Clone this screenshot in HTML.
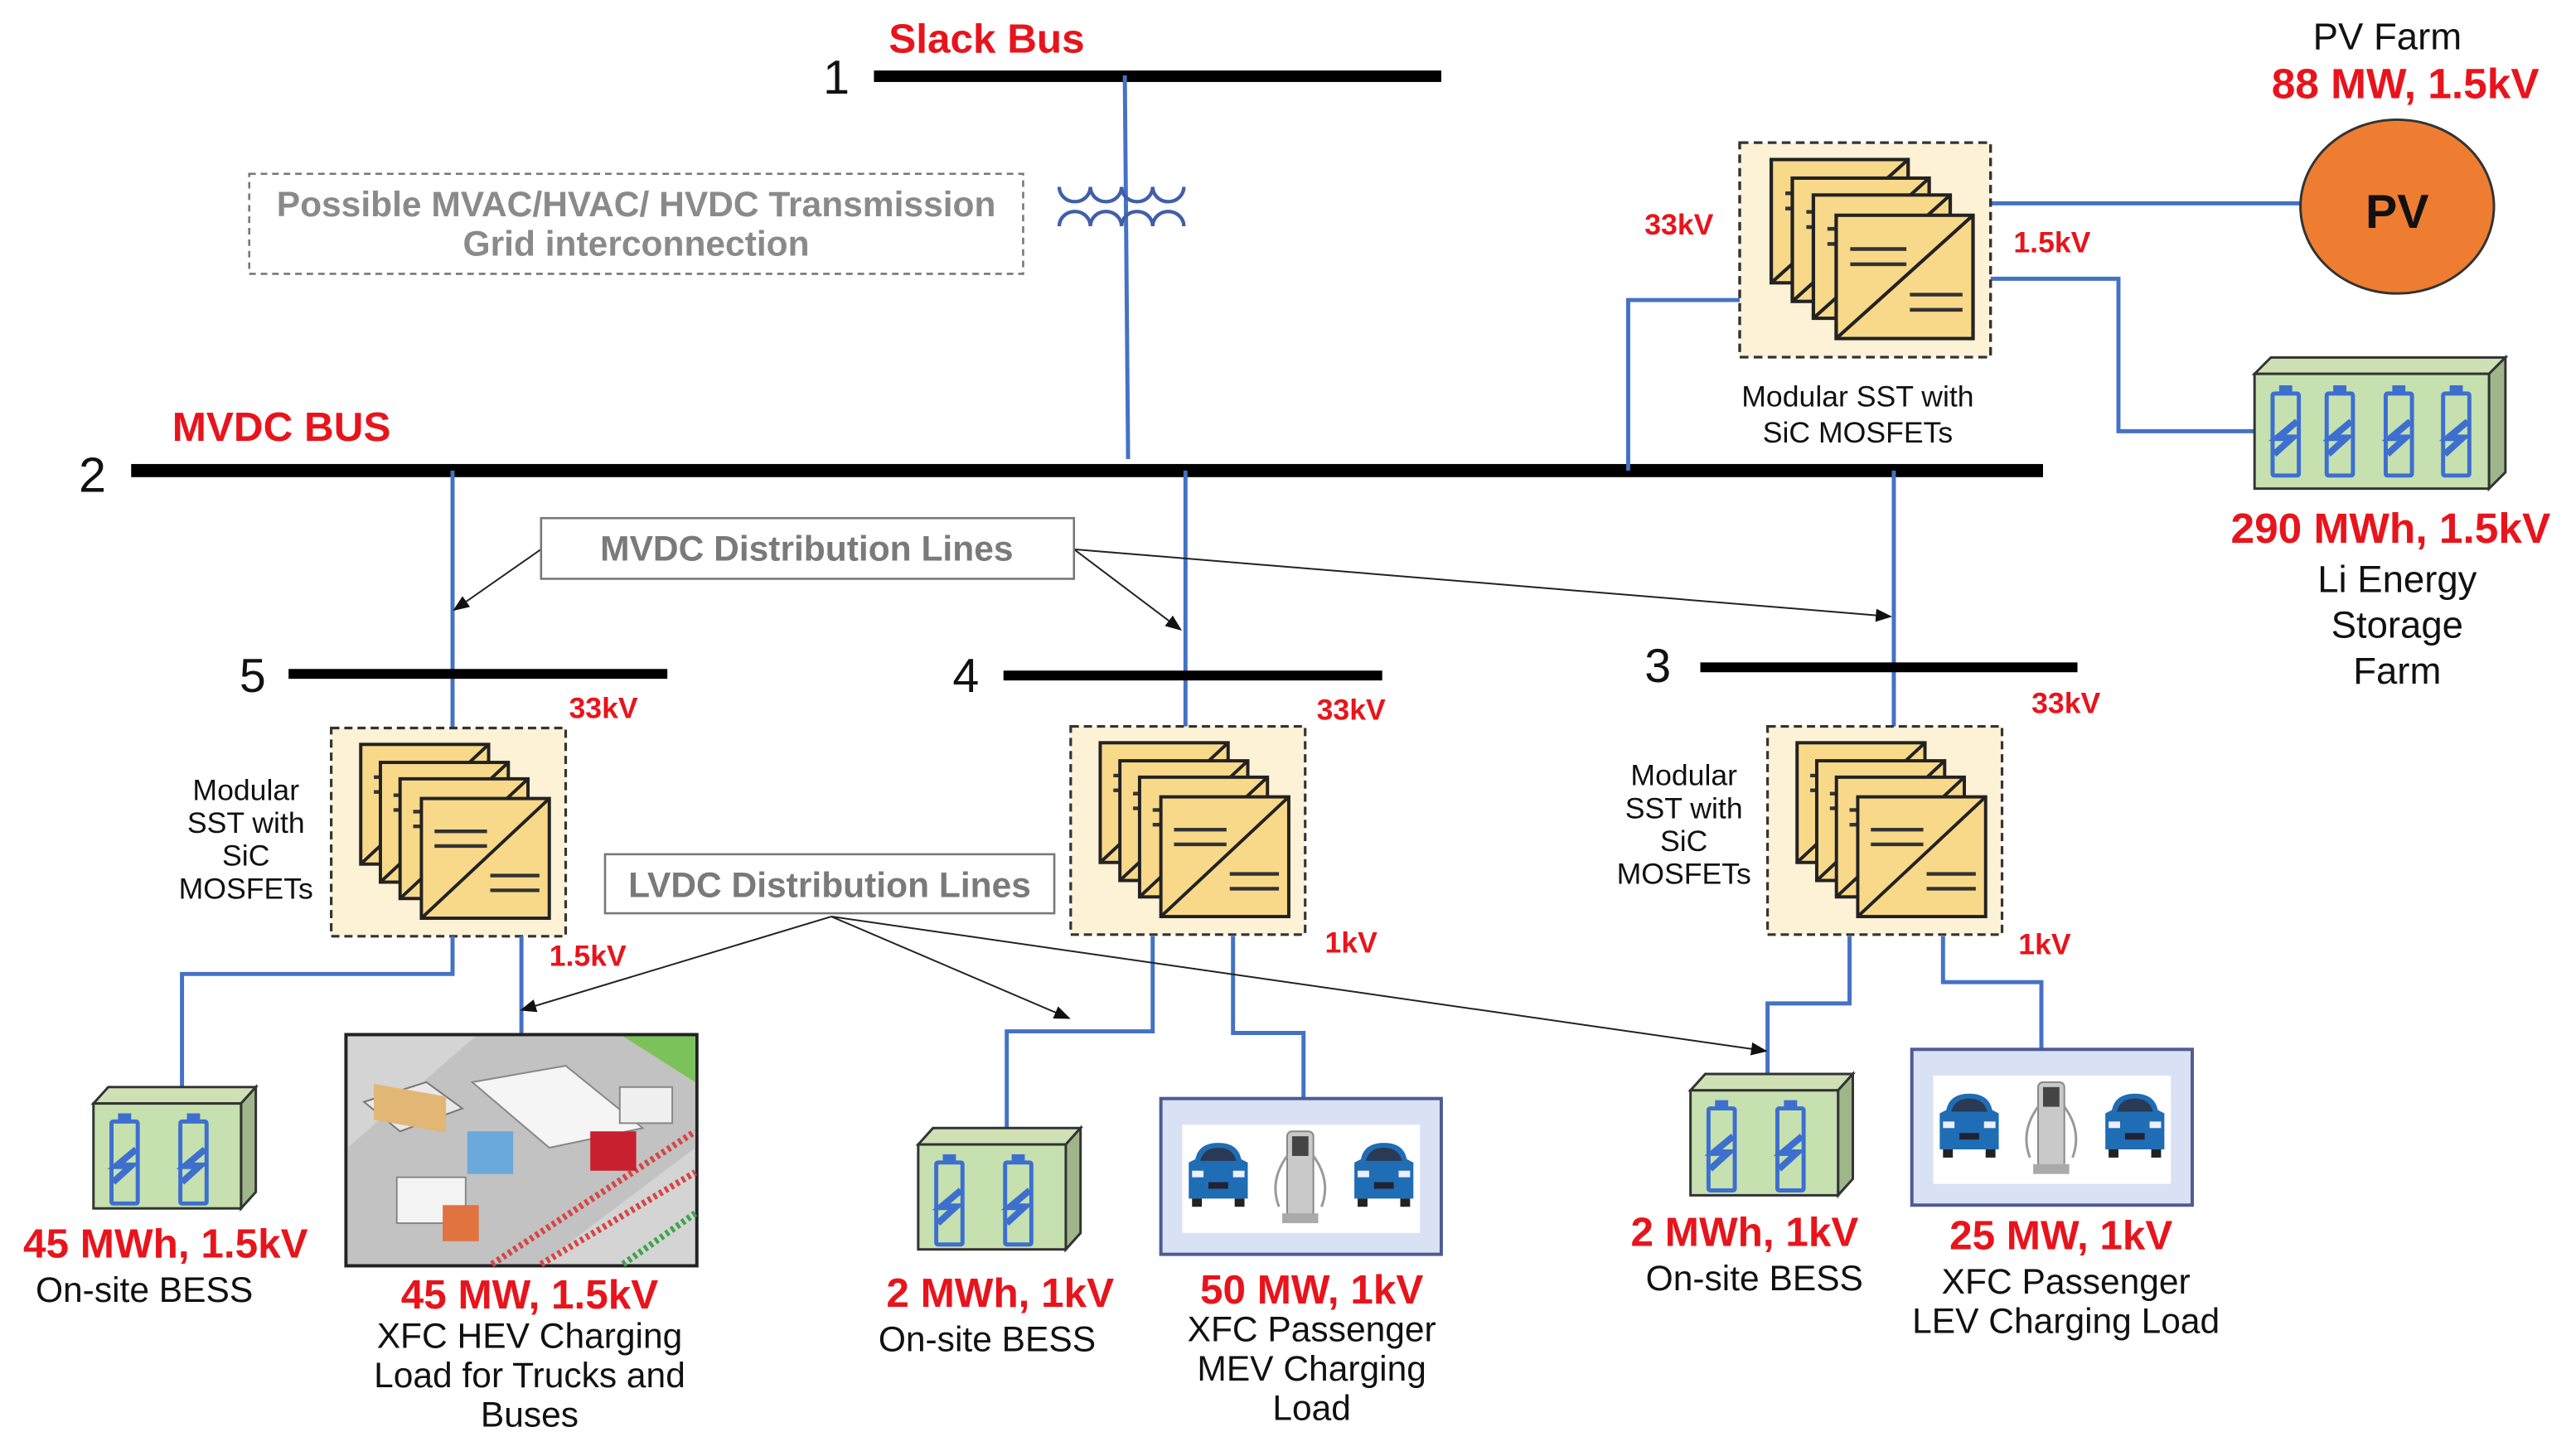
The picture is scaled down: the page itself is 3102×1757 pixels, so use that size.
<!DOCTYPE html>
<html><head><meta charset="utf-8"><style>
html,body{margin:0;padding:0;background:#fff;}
svg{display:block;}
text{font-family:"Liberation Sans",Arial,sans-serif;}
.r{fill:#e8141c;font-weight:bold;}
.b{fill:#111;}
</style></head><body>
<svg width="3102" height="1757" viewBox="0 0 1568 888" preserveAspectRatio="none" xmlns="http://www.w3.org/2000/svg">
<defs>
<marker id="ar" markerWidth="10" markerHeight="8" refX="9" refY="4" orient="auto" markerUnits="userSpaceOnUse">
<path d="M0,0 L10,4 L0,8 z" fill="#111"/></marker>
<g id="card">
<rect x="0" y="0" width="78" height="73" fill="#f8d98a" stroke="#222" stroke-width="2"/>
<line x1="0" y1="73" x2="78" y2="0" stroke="#222" stroke-width="2"/>
<line x1="8" y1="20" x2="40" y2="20" stroke="#333" stroke-width="2.2"/>
<line x1="8" y1="29" x2="40" y2="29" stroke="#333" stroke-width="2.2"/>
<line x1="42" y1="47" x2="72" y2="47" stroke="#333" stroke-width="2.2"/>
<line x1="42" y1="56" x2="72" y2="56" stroke="#333" stroke-width="2.2"/>
</g>
<g id="sst">
<rect x="0" y="0" width="143" height="127" fill="#fdf1d6" stroke="#333" stroke-width="1.6" stroke-dasharray="5,3"/>
<use href="#card" x="18" y="10"/>
<use href="#card" x="30" y="21"/>
<use href="#card" x="42" y="31"/>
<use href="#card" x="55" y="43"/>
</g>
<g id="cell">
<rect x="4" y="0" width="8" height="5" fill="#3d6fcf"/>
<rect x="0" y="5" width="16" height="50" rx="1" fill="none" stroke="#3d6fcf" stroke-width="2.5"/>
<path d="M15,22 L3,32 L12,32 L1,42" fill="none" stroke="#3d6fcf" stroke-width="4"/>
</g>
<g id="car">
<path d="M6,10 Q8,0 20,0 Q32,0 34,10 L38,12 L38,34 L2,34 L2,12 Z" fill="#1f6db4"/>
<path d="M9,11 Q11,3 20,3 Q29,3 31,11 Z" fill="#2a3a55"/>
<rect x="4" y="17" width="7" height="4" fill="#eef"/>
<rect x="29" y="17" width="7" height="4" fill="#eef"/>
<rect x="14" y="24" width="12" height="4" fill="#223"/>
<rect x="4" y="34" width="6" height="5" fill="#222"/>
<rect x="30" y="34" width="6" height="5" fill="#222"/>
</g>
<g id="evbox">
<rect x="0" y="0" width="171" height="95" fill="#d9e1f4" stroke="#4d5b94" stroke-width="2"/>
<rect x="13" y="16" width="145" height="66" fill="#fff"/>
<use href="#car" x="15" y="27"/>
<use href="#car" x="116" y="27"/>
<rect x="77" y="20" width="16" height="52" rx="3" fill="#c9c9c9" stroke="#888"/>
<rect x="80" y="23" width="10" height="12" fill="#444"/>
<rect x="74" y="70" width="22" height="6" fill="#aaa"/>
<path d="M77,35 Q66,50 72,66 M93,35 Q104,50 98,66" fill="none" stroke="#999" stroke-width="1.5"/>
</g>
</defs>

<!-- Slack bus -->
<rect x="533" y="43" width="346" height="7" fill="#000"/>
<text x="502" y="57" font-size="29" class="b">1</text>
<text x="542" y="32" font-size="25" class="r">Slack Bus</text>
<line x1="686" y1="46" x2="688" y2="280" stroke="#4472c4" stroke-width="2.5"/>
<path d="M646,114 a9.5,9 0 0 0 19,0 a9.5,9 0 0 0 19,0 a9.5,9 0 0 0 19,0 a9.5,9 0 0 0 19,0" fill="none" stroke="#3f5fa8" stroke-width="2.2"/>
<path d="M646,138 a9.5,9 0 0 1 19,0 a9.5,9 0 0 1 19,0 a9.5,9 0 0 1 19,0 a9.5,9 0 0 1 19,0" fill="none" stroke="#3f5fa8" stroke-width="2.2"/>

<rect x="152" y="106" width="472" height="61" fill="#fff" stroke="#777" stroke-width="1.3" stroke-dasharray="4,3"/>
<text x="388" y="132" font-size="21.5" font-weight="bold" fill="#8a8a8a" text-anchor="middle">Possible MVAC/HVAC/ HVDC Transmission</text>
<text x="388" y="156" font-size="21.5" font-weight="bold" fill="#8a8a8a" text-anchor="middle">Grid interconnection</text>

<!-- MVDC bus -->
<rect x="80" y="283" width="1166" height="8" fill="#000"/>
<text x="48" y="300" font-size="30" class="b">2</text>
<text x="105" y="269" font-size="25" class="r">MVDC BUS</text>

<!-- Top SST -->
<line x1="1214" y1="124" x2="1404" y2="124" stroke="#4472c4" stroke-width="2.5"/>
<polyline points="1214,170 1292,170 1292,263 1376,263" fill="none" stroke="#4472c4" stroke-width="2.5"/>
<polyline points="1061,183 993,183 993,287" fill="none" stroke="#4472c4" stroke-width="2.5"/>
<use href="#sst" x="1061" y="87" transform="translate(1061,87) scale(1.07,1.03) translate(-1061,-87)"/>
<text x="1003" y="143" font-size="18" class="r">33kV</text>
<text x="1228" y="154" font-size="18" class="r">1.5kV</text>
<text x="1133" y="248" font-size="18" class="b" text-anchor="middle">Modular SST with</text>
<text x="1133" y="270" font-size="18" class="b" text-anchor="middle">SiC MOSFETs</text>

<!-- PV -->
<ellipse cx="1462" cy="126" rx="59" ry="53" fill="#ee7d31" stroke="#333" stroke-width="1.5"/>
<text x="1462" y="139" font-size="29" font-weight="bold" fill="#111" text-anchor="middle">PV</text>
<text x="1456" y="30" font-size="23" class="b" text-anchor="middle">PV Farm</text>
<text x="1467" y="60" font-size="26" class="r" text-anchor="middle">88 MW, 1.5kV</text>

<!-- Big battery -->
<polygon points="1375,228 1385,218 1528,218 1518,228" fill="#cfe0b4" stroke="#333" stroke-width="1.5"/>
<polygon points="1518,228 1528,218 1528,288 1518,298" fill="#9fb68a" stroke="#333" stroke-width="1.5"/>
<rect x="1375" y="228" width="143" height="70" fill="#c6e0b0" stroke="#333" stroke-width="1.5"/>
<use href="#cell" x="1386" y="235"/>
<use href="#cell" x="1419" y="235"/>
<use href="#cell" x="1455" y="235"/>
<use href="#cell" x="1490" y="235"/>
<text x="1458" y="331" font-size="26" class="r" text-anchor="middle">290 MWh, 1.5kV</text>
<text x="1462" y="361" font-size="23" class="b" text-anchor="middle">Li Energy</text>
<text x="1462" y="389" font-size="23" class="b" text-anchor="middle">Storage</text>
<text x="1462" y="417" font-size="23" class="b" text-anchor="middle">Farm</text>

<!-- Vertical feeders -->
<line x1="276" y1="287" x2="276" y2="455" stroke="#4472c4" stroke-width="2.5"/>
<line x1="723" y1="287" x2="723" y2="455" stroke="#4472c4" stroke-width="2.5"/>
<line x1="1155" y1="287" x2="1155" y2="444" stroke="#4472c4" stroke-width="2.5"/>

<!-- MVDC dist lines label -->
<line x1="330" y1="335" x2="277" y2="372" stroke="#222" stroke-width="1" marker-end="url(#ar)"/>
<line x1="655" y1="335" x2="720" y2="384" stroke="#222" stroke-width="1" marker-end="url(#ar)"/>
<line x1="655" y1="335" x2="1153" y2="376" stroke="#222" stroke-width="1" marker-end="url(#ar)"/>
<rect x="330" y="316" width="325" height="37" fill="#fff" stroke="#777" stroke-width="1.3"/>
<text x="492" y="342" font-size="21.5" font-weight="bold" fill="#7a7a7a" text-anchor="middle">MVDC Distribution Lines</text>

<!-- buses 3,4,5 -->
<rect x="176" y="408" width="231" height="6" fill="#000"/>
<text x="146" y="422" font-size="29" class="b">5</text>
<rect x="612" y="409" width="231" height="6" fill="#000"/>
<text x="581" y="422" font-size="29" class="b">4</text>
<rect x="1037" y="404" width="230" height="6" fill="#000"/>
<text x="1003" y="416" font-size="29" class="b">3</text>
<text x="347" y="438" font-size="18" class="r">33kV</text>
<text x="803" y="439" font-size="18" class="r">33kV</text>
<text x="1239" y="435" font-size="18" class="r">33kV</text>

<!-- SSTs -->
<use href="#sst" x="202" y="444"/>
<use href="#sst" x="653" y="443"/>
<use href="#sst" x="1078" y="443"/>
<g font-size="18" class="b" text-anchor="middle">
<text x="150" y="488">Modular</text><text x="150" y="508">SST with</text><text x="150" y="528">SiC</text><text x="150" y="548">MOSFETs</text>
<text x="1027" y="479">Modular</text><text x="1027" y="499">SST with</text><text x="1027" y="519">SiC</text><text x="1027" y="539">MOSFETs</text>
</g>
<text x="335" y="589" font-size="18" class="r">1.5kV</text>
<text x="808" y="581" font-size="18" class="r">1kV</text>
<text x="1231" y="582" font-size="18" class="r">1kV</text>

<!-- LV feeders -->
<g fill="none" stroke="#4472c4" stroke-width="2.5">
<polyline points="276,571 276,594 111,594 111,665"/>
<line x1="318" y1="571" x2="318" y2="632"/>
<polyline points="703,571 703,629 614,629 614,690"/>
<polyline points="752,571 752,630 795,630 795,670"/>
<polyline points="1128,571 1128,612 1078,612 1078,657"/>
<polyline points="1185,571 1185,599 1245,599 1245,640"/>
</g>

<!-- LVDC label -->
<line x1="507" y1="559" x2="318" y2="616" stroke="#222" stroke-width="1" marker-end="url(#ar)"/>
<line x1="507" y1="559" x2="652" y2="621" stroke="#222" stroke-width="1" marker-end="url(#ar)"/>
<line x1="507" y1="559" x2="1077" y2="641" stroke="#222" stroke-width="1" marker-end="url(#ar)"/>
<rect x="369" y="521" width="274" height="36" fill="#fff" stroke="#777" stroke-width="1.3"/>
<text x="506" y="547" font-size="21.5" font-weight="bold" fill="#7a7a7a" text-anchor="middle">LVDC Distribution Lines</text>

<!-- small batteries -->
<g id="sb5">
<polygon points="57,673 66,663 156,663 147,673" fill="#cfe0b4" stroke="#333" stroke-width="1.5"/>
<polygon points="147,673 156,663 156,727 147,737" fill="#9fb68a" stroke="#333" stroke-width="1.5"/>
<rect x="57" y="673" width="90" height="64" fill="#c6e0b0" stroke="#333" stroke-width="1.5"/>
<use href="#cell" x="68" y="679"/>
<use href="#cell" x="110" y="679"/>
</g>
<use href="#sb5" transform="translate(503,25)"/>
<use href="#sb5" transform="translate(974,-8)"/>

<!-- truck image -->
<rect x="211" y="631" width="214" height="141" fill="#d4d4d4" stroke="#222" stroke-width="2"/>
<polygon points="212,700 290,632 424,632 424,700 330,771 212,771" fill="#c2c2c2"/>
<polygon points="380,632 424,632 424,660" fill="#7cc25a"/>
<path d="M300,771 L424,690 M330,771 L424,715" stroke="#d64545" stroke-width="4" stroke-dasharray="2,2"/>
<path d="M380,771 L424,740" stroke="#3fa34d" stroke-width="4" stroke-dasharray="2,2"/>
<polygon points="222,672 260,660 282,676 244,690" fill="#e9e9e9" stroke="#777"/>
<rect x="228" y="661" width="44" height="22" fill="#e2b776" transform="skewY(10)" transform-origin="228 661"/>
<polygon points="288,660 345,650 392,688 335,700" fill="#f5f5f5" stroke="#888"/>
<rect x="360" y="690" width="28" height="24" fill="#c8202e"/>
<rect x="378" y="663" width="32" height="22" fill="#f0f0f0" stroke="#888"/>
<rect x="285" y="690" width="28" height="26" fill="#6aa9dc"/>
<rect x="242" y="718" width="42" height="28" fill="#f3f3f3" stroke="#888"/>
<rect x="270" y="735" width="22" height="22" fill="#e07340"/>

<!-- EV boxes -->
<use href="#evbox" x="708" y="670"/>
<use href="#evbox" x="1166" y="640"/>

<!-- bottom labels -->
<g text-anchor="middle">
<text x="101" y="767" font-size="25" class="r">45 MWh, 1.5kV</text>
<text x="88" y="794" font-size="21.5" class="b">On-site BESS</text>
<text x="323" y="798" font-size="25" class="r">45 MW, 1.5kV</text>
<text x="323" y="822" font-size="21.5" class="b">XFC HEV Charging</text>
<text x="323" y="846" font-size="21.5" class="b">Load for Trucks and</text>
<text x="323" y="870" font-size="21.5" class="b">Buses</text>
<text x="610" y="797" font-size="25" class="r">2 MWh, 1kV</text>
<text x="602" y="824" font-size="21.5" class="b">On-site BESS</text>
<text x="800" y="795" font-size="25" class="r">50 MW, 1kV</text>
<text x="800" y="818" font-size="21.5" class="b">XFC Passenger</text>
<text x="800" y="842" font-size="21.5" class="b">MEV Charging</text>
<text x="800" y="866" font-size="21.5" class="b">Load</text>
<text x="1064" y="760" font-size="25" class="r">2 MWh, 1kV</text>
<text x="1070" y="787" font-size="21.5" class="b">On-site BESS</text>
<text x="1257" y="762" font-size="25" class="r">25 MW, 1kV</text>
<text x="1260" y="789" font-size="21.5" class="b">XFC Passenger</text>
<text x="1260" y="813" font-size="21.5" class="b">LEV Charging Load</text>
</g>
</svg>
</body></html>
